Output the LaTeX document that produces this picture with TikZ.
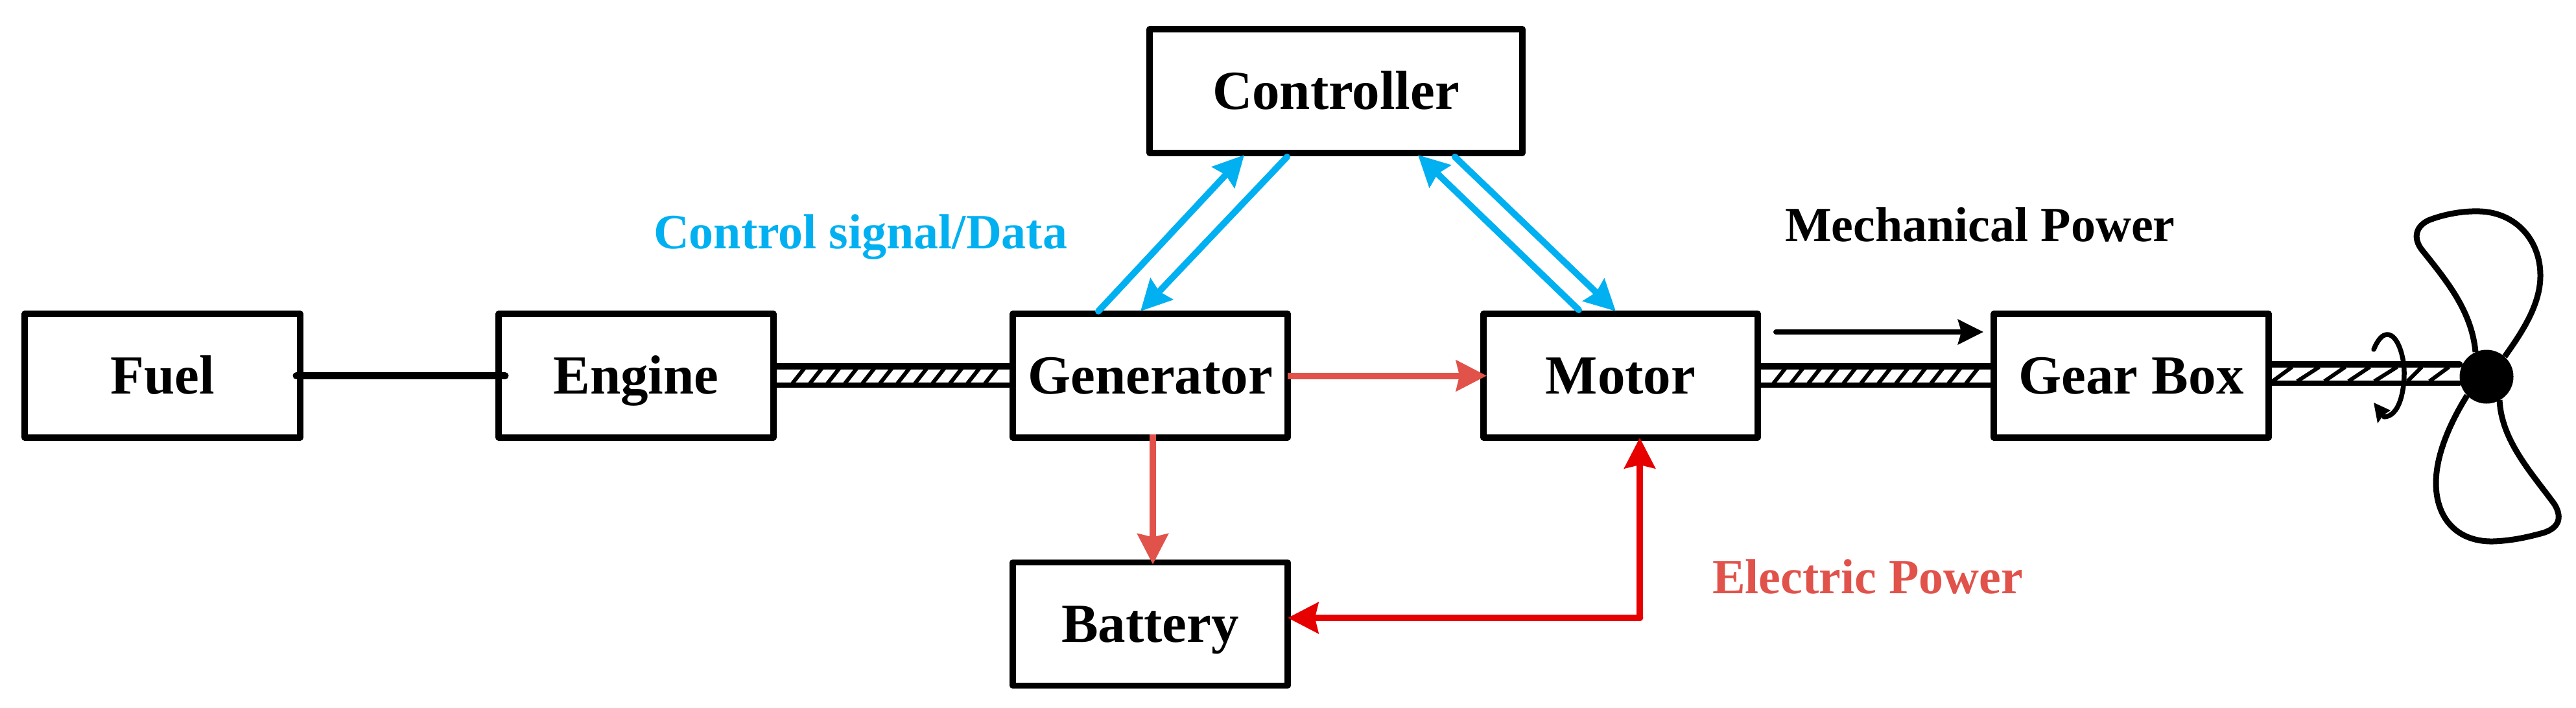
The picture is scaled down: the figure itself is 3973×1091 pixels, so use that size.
\documentclass[tikz,border=0pt]{standalone}
\usepackage{fontspec}
\setmainfont{Liberation Serif}
\usetikzlibrary{arrows.meta,calc}
\definecolor{sigblue}{HTML}{00B0F0}
\definecolor{elecsalmon}{HTML}{E0524A}
\definecolor{elecred}{HTML}{E60000}
\tikzset{
  unitbox/.style={draw=black,line width=0.93pt,line join=round,fill=white,outer sep=0pt,inner sep=0pt,
    font=\fontsize{8.5}{10}\selectfont\bfseries,text height=5.6pt,text depth=0pt,align=center},
  legendtext/.style={font=\fontsize{7.6}{9}\selectfont\bfseries,anchor=base west,inner sep=0pt,outer sep=0pt},
  bigtip/.style={-{Stealth[length=4.7pt,width=4.7pt,inset=0.5pt]}},
  sigarrow/.style={bigtip,draw=sigblue,line width=1pt,line cap=round},
  salmonarrow/.style={bigtip,draw=elecsalmon,line width=1pt},
  redarrow/.style={bigtip,draw=elecred,line width=1pt,line join=round},
  shaftline/.style={draw=black,line cap=round},
  hatchline/.style={draw=black,line width=0.6pt},
  bladeline/.style={draw=black,line width=0.9pt,line join=round},
}
\begin{document}
\begin{tikzpicture}[x=0.1pt,y=-0.1pt]
\useasboundingbox (0,0) rectangle (3973,1091);
\node[unitbox,minimum width=425pt*0.1,minimum height=191pt*0.1] (fuel) at (250.5,579.5) {Fuel};
\node[unitbox,minimum width=424pt*0.1,minimum height=191pt*0.1] (engine) at (981,579.5) {Engine};
\node[unitbox,minimum width=424pt*0.1,minimum height=191pt*0.1] (gen) at (1774,579.5) {Generator};
\node[unitbox,minimum width=423pt*0.1,minimum height=191pt*0.1] (motor) at (2499.5,579.5) {Motor};
\node[unitbox,minimum width=424pt*0.1,minimum height=191pt*0.1] (gear) at (3287,579.5) {Gear Box};
\node[unitbox,minimum width=575pt*0.1,minimum height=191pt*0.1] (ctrl) at (2060.5,140.5) {Controller};
\node[unitbox,minimum width=424pt*0.1,minimum height=190pt*0.1] (batt) at (1774,962.5) {Battery};

% fuel line
\draw[shaftline,line width=1.1pt] ($(fuel.east)+(-6,0)$) -- ($(engine.west)+(10,0)$);

% shafts
\foreach \a/\b/\s/\n in {engine/gen/29/11,motor/gear/24/11}{
  \draw[shaftline,line width=1pt] ($(\a.east)+(4,-15)$) -- ($(\b.west)+(-6,-15)$);
  \draw[shaftline,line width=0.8pt] ($(\a.east)+(4,14.5)$) -- ($(\b.west)+(-6,14.5)$);
  \foreach \k in {0,...,\n}{
    \draw[hatchline] ($(\a.east)+(\s+27*\k,12)$) -- ($(\a.east)+(\s+27*\k+19,-12)$);
  }
}
\node[circle,fill=black,inner sep=0pt,outer sep=0pt,minimum size=8.3pt] (hub) at (3835,581) {};
\draw[shaftline,line width=1pt] (gear.east |- 0,562) -- (hub.west |- 0,562);
\draw[shaftline,line width=0.8pt] (gear.east |- 0,591) -- (hub.west |- 0,591);
\foreach \bx/\tx in {3505/3535,3543/3577,3585/3617,3622/3655,3662/3697,3713/3735,3747/3777}{
  \draw[hatchline] (\bx,588) -- (\tx,566);
}

% blades
\draw[bladeline] (3818,543) .. controls (3812,480) and (3775,435) .. (3735,385)
  .. controls (3722,368) and (3725,350) .. (3745,340)
  .. controls (3770,330) and (3800,325) .. (3825,326)
  .. controls (3880,328) and (3918,370) .. (3918,425)
  .. controls (3918,470) and (3890,512) .. (3863,550);
\draw[bladeline] (3805,610) .. controls (3780,650) and (3757,700) .. (3757,745)
  .. controls (3757,800) and (3790,836) .. (3845,835)
  .. controls (3875,834) and (3900,828) .. (3922,822)
  .. controls (3945,815) and (3953,800) .. (3940,778)
  .. controls (3905,730) and (3858,680) .. (3855,617);

% rotation arrow
\draw[draw=black,line width=0.75pt,line cap=round] (3661,539) .. controls (3668,522) and (3675,516) .. (3682,516)
  .. controls (3698,516) and (3708,550) .. (3708,575)
  .. controls (3708,605) and (3700,642) .. (3677,643);
\fill[black] (3661,621) -- (3667,653) -- (3676,640) -- (3687,633) -- cycle;

% signals
\draw[sigarrow] ($(gen.north west)+(132,-4)$) -- ($(ctrl.south west)+(146,3)$);
\draw[sigarrow] ($(ctrl.south west)+(212,6)$) -- ($(gen.north west)+(197,-4)$);
\draw[sigarrow] ($(motor.north west)+(147,-6)$) -- ($(ctrl.south west)+(414,3)$);
\draw[sigarrow] ($(ctrl.south west)+(471,6)$) -- ($(motor.north west)+(204,-4)$);

% power
\draw[salmonarrow] (gen.east) -- ($(motor.west)+(5,0)$);
\draw[salmonarrow] (gen.south) ++(4,-5) coordinate (gs) (gs) -- ($(batt.north)+(4,3)$);
\coordinate (corner) at (2529,953);
\draw[bigtip,draw=elecred,line width=1.07pt,line cap=round] (corner) -- ($(batt.east)+(0,-9.5)$);
\draw[redarrow,line cap=round] (corner) -- ($(motor.south)+(29.5,0)$);

% mechanical arrow
\coordinate (mstart) at (2739,512);
\coordinate (mend) at (3059,512);
\draw[-{Stealth[length=3.9pt,width=3.8pt,inset=0.5pt]},draw=black,line width=0.8pt,line cap=round] (mstart) -- (mend);

% labels
\node[legendtext,text=sigblue] (lsig) at (1008,383) {Control signal/Data};
\node[legendtext,text=black] (lmech) at (2753,372) {Mechanical Power};
\node[legendtext,text=elecsalmon] (lelec) at (2641,915) {Electric Power};
\end{tikzpicture}
\end{document}
